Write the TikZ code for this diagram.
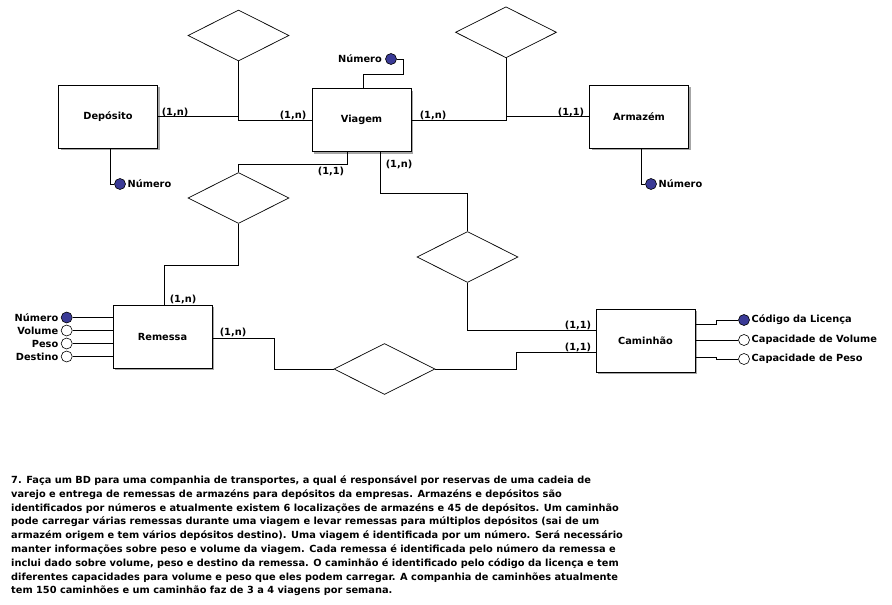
\documentclass[tikz,border=0pt]{standalone}
\usepackage{fontspec}
\setmainfont{DejaVu Sans}
\usetikzlibrary{shapes.geometric,shadows}
\definecolor{keyblue}{RGB}{58,58,150}
\begin{document}
\begin{tikzpicture}[x=1pt,y=-1pt,
  font=\fontsize{9.8}{12}\selectfont\bfseries,
  ent/.style={draw, line width=0.9pt, fill=white, minimum width=99pt, minimum height=63pt, inner sep=0pt,
    drop shadow={shadow xshift=2pt, shadow yshift=-2pt, fill=black!35, opacity=1}},
  rel/.style={draw, diamond, line width=0.7pt, minimum width=101pt, minimum height=51pt, inner sep=0pt},
  link/.style={line width=0.9pt},
  keyatt/.style={circle, draw, line width=0.6pt, fill=keyblue, minimum size=11pt, inner sep=0pt},
  att/.style={circle, draw, line width=0.6pt, fill=white, minimum size=11pt, inner sep=0pt},
  lbl/.style={inner sep=0pt}]
\useasboundingbox[fill=white] (0,0) rectangle (892,605);

% entities
\node[ent] (dep) at (108,116.7) {Depósito};
\node[ent] (via) at (361.5,120) {Viagem};
\node[ent] (arm) at (639,116.7) {Armazém};
\node[ent] (rem) at (162.5,336.7) {Remessa};
\node[ent] (cam) at (645.5,340.8) {Caminhão};

% relationships
\node[rel] (r1) at (238.5,35.5) {};
\node[rel] (r2) at (506,32.3) {};
\node[rel] (r3) at (238.5,198) {};
\node[rel] (r4) at (467.5,257) {};
\node[rel] (r5) at (384.5,369) {};

% connectors
\draw[link] (dep.east) -| (r1.south);
\draw[link] (via.west) -| (r1.south);
\draw[link] (via.east) -| (r2.south);
\draw[link] (arm.west) -| (r2.south);
\draw[link] ([xshift=-14.5pt]via.south) -- ++(0,12.3) -| (r3.north);
\draw[link] (r3.south) -- ++(0,42) -| ([xshift=1.5pt]rem.north);
\draw[link] ([xshift=18.5pt]via.south) -- ++(0,41) -| (r4.north);
\draw[link] (r4.south) |- ([yshift=10pt]cam.west);
\draw[link] ([yshift=-1.6pt]rem.east) -- ++(62,0) |- (r5.west);
\draw[link] (r5.east) -- ++(81.5,0) |- ([yshift=-12pt]cam.west);

% cardinalities
\node[lbl] (c1) at (175,112) {(1,n)};
\node[lbl] (c2) at (293,115) {(1,n)};
\node[lbl] (c3) at (433,115) {(1,n)};
\node[lbl] (c4) at (571,112) {(1,1)};
\node[lbl] (c5) at (331,171) {(1,1)};
\node[lbl] (c6) at (399,164) {(1,n)};
\node[lbl] (c7) at (183,299) {(1,n)};
\node[lbl] (c8) at (233,332) {(1,n)};
\node[lbl] (c9) at (578,325) {(1,1)};
\node[lbl] (c10) at (578,347) {(1,1)};

% attributes of Depósito
\node[keyatt] (depk) at (120,184) {};
\node[lbl, anchor=west] (depkl) at (127.5,184) {Número};
\draw[link] ([xshift=2pt]dep.south) |- (depk.west);

% attributes of Armazém
\node[keyatt] (armk) at (651,184) {};
\node[lbl, anchor=west] (armkl) at (658.5,184) {Número};
\draw[link] ([xshift=2pt]arm.south) |- (armk.west);

% attributes of Viagem
\node[keyatt] (viak) at (391,59) {};
\node[lbl, anchor=east] (viakl) at (382,59) {Número};
\draw[link] ([xshift=1.5pt]via.north) -- ++(0,-14) -- ++(40,0) |- (viak.east);

% attributes of Remessa
\node[keyatt] (rk1) at (66.7,317.5) {};
\node[att] (ra2) at (66.7,330.5) {};
\node[att] (ra3) at (66.7,343.5) {};
\node[att] (ra4) at (66.7,356.5) {};
\draw[link] (rk1.east) -- (rk1.east -| rem.west);
\draw[link] (ra2.east) -- (ra2.east -| rem.west);
\draw[link] (ra3.east) -- (ra3.east -| rem.west);
\draw[link] (ra4.east) -- (ra4.east -| rem.west);
\node[lbl, anchor=east] (rl1) at (58.5,317.5) {Número};
\node[lbl, anchor=east] (rl2) at (58.5,330.5) {Volume};
\node[lbl, anchor=east] (rl3) at (58.5,343.5) {Peso};
\node[lbl, anchor=east] (rl4) at (58.5,356.5) {Destino};

% attributes of Caminhão
\node[keyatt] (ck1) at (744,320) {};
\node[att] (ca2) at (744,340) {};
\node[att] (ca3) at (744,359) {};
\draw[link] ([yshift=16.8pt]cam.east) -- ++(21,0) |- (ck1.west);
\draw[link] (ca2.west) -- (ca2.west -| cam.east);
\draw[link] ([yshift=-16.2pt]cam.east) -- ++(21,0) |- (ca3.west);
\node[lbl, anchor=west] (cl1) at (751.5,320) {Código da Licença};
\node[lbl, anchor=west] (cl2) at (751.5,340) {Capacidade de Volume};
\node[lbl, anchor=west] (cl3) at (751.5,359) {Capacidade de Peso};

% description
\node[lbl, anchor=north west, align=left, font=\fontsize{9.8}{13.8}\selectfont\bfseries] (desc) at (11,475.5)
{7. Faça um BD para uma companhia de transportes, a qual é responsável por reservas de uma cadeia de\\
varejo e entrega de remessas de armazéns para depósitos da empresas. Armazéns e depósitos são\\
identificados por números e atualmente existem 6 localizações de armazéns e 45 de depósitos. Um caminhão\\
pode carregar várias remessas durante uma viagem e levar remessas para múltiplos depósitos (sai de um\\
armazém origem e tem vários depósitos destino). Uma viagem é identificada por um número. Será necessário\\
manter informações sobre peso e volume da viagem. Cada remessa é identificada pelo número da remessa e\\
inclui dado sobre volume, peso e destino da remessa. O caminhão é identificado pelo código da licença e tem\\
diferentes capacidades para volume e peso que eles podem carregar. A companhia de caminhões atualmente\\
tem 150 caminhões e um caminhão faz de 3 a 4 viagens por semana.};
\end{tikzpicture}
\end{document}
